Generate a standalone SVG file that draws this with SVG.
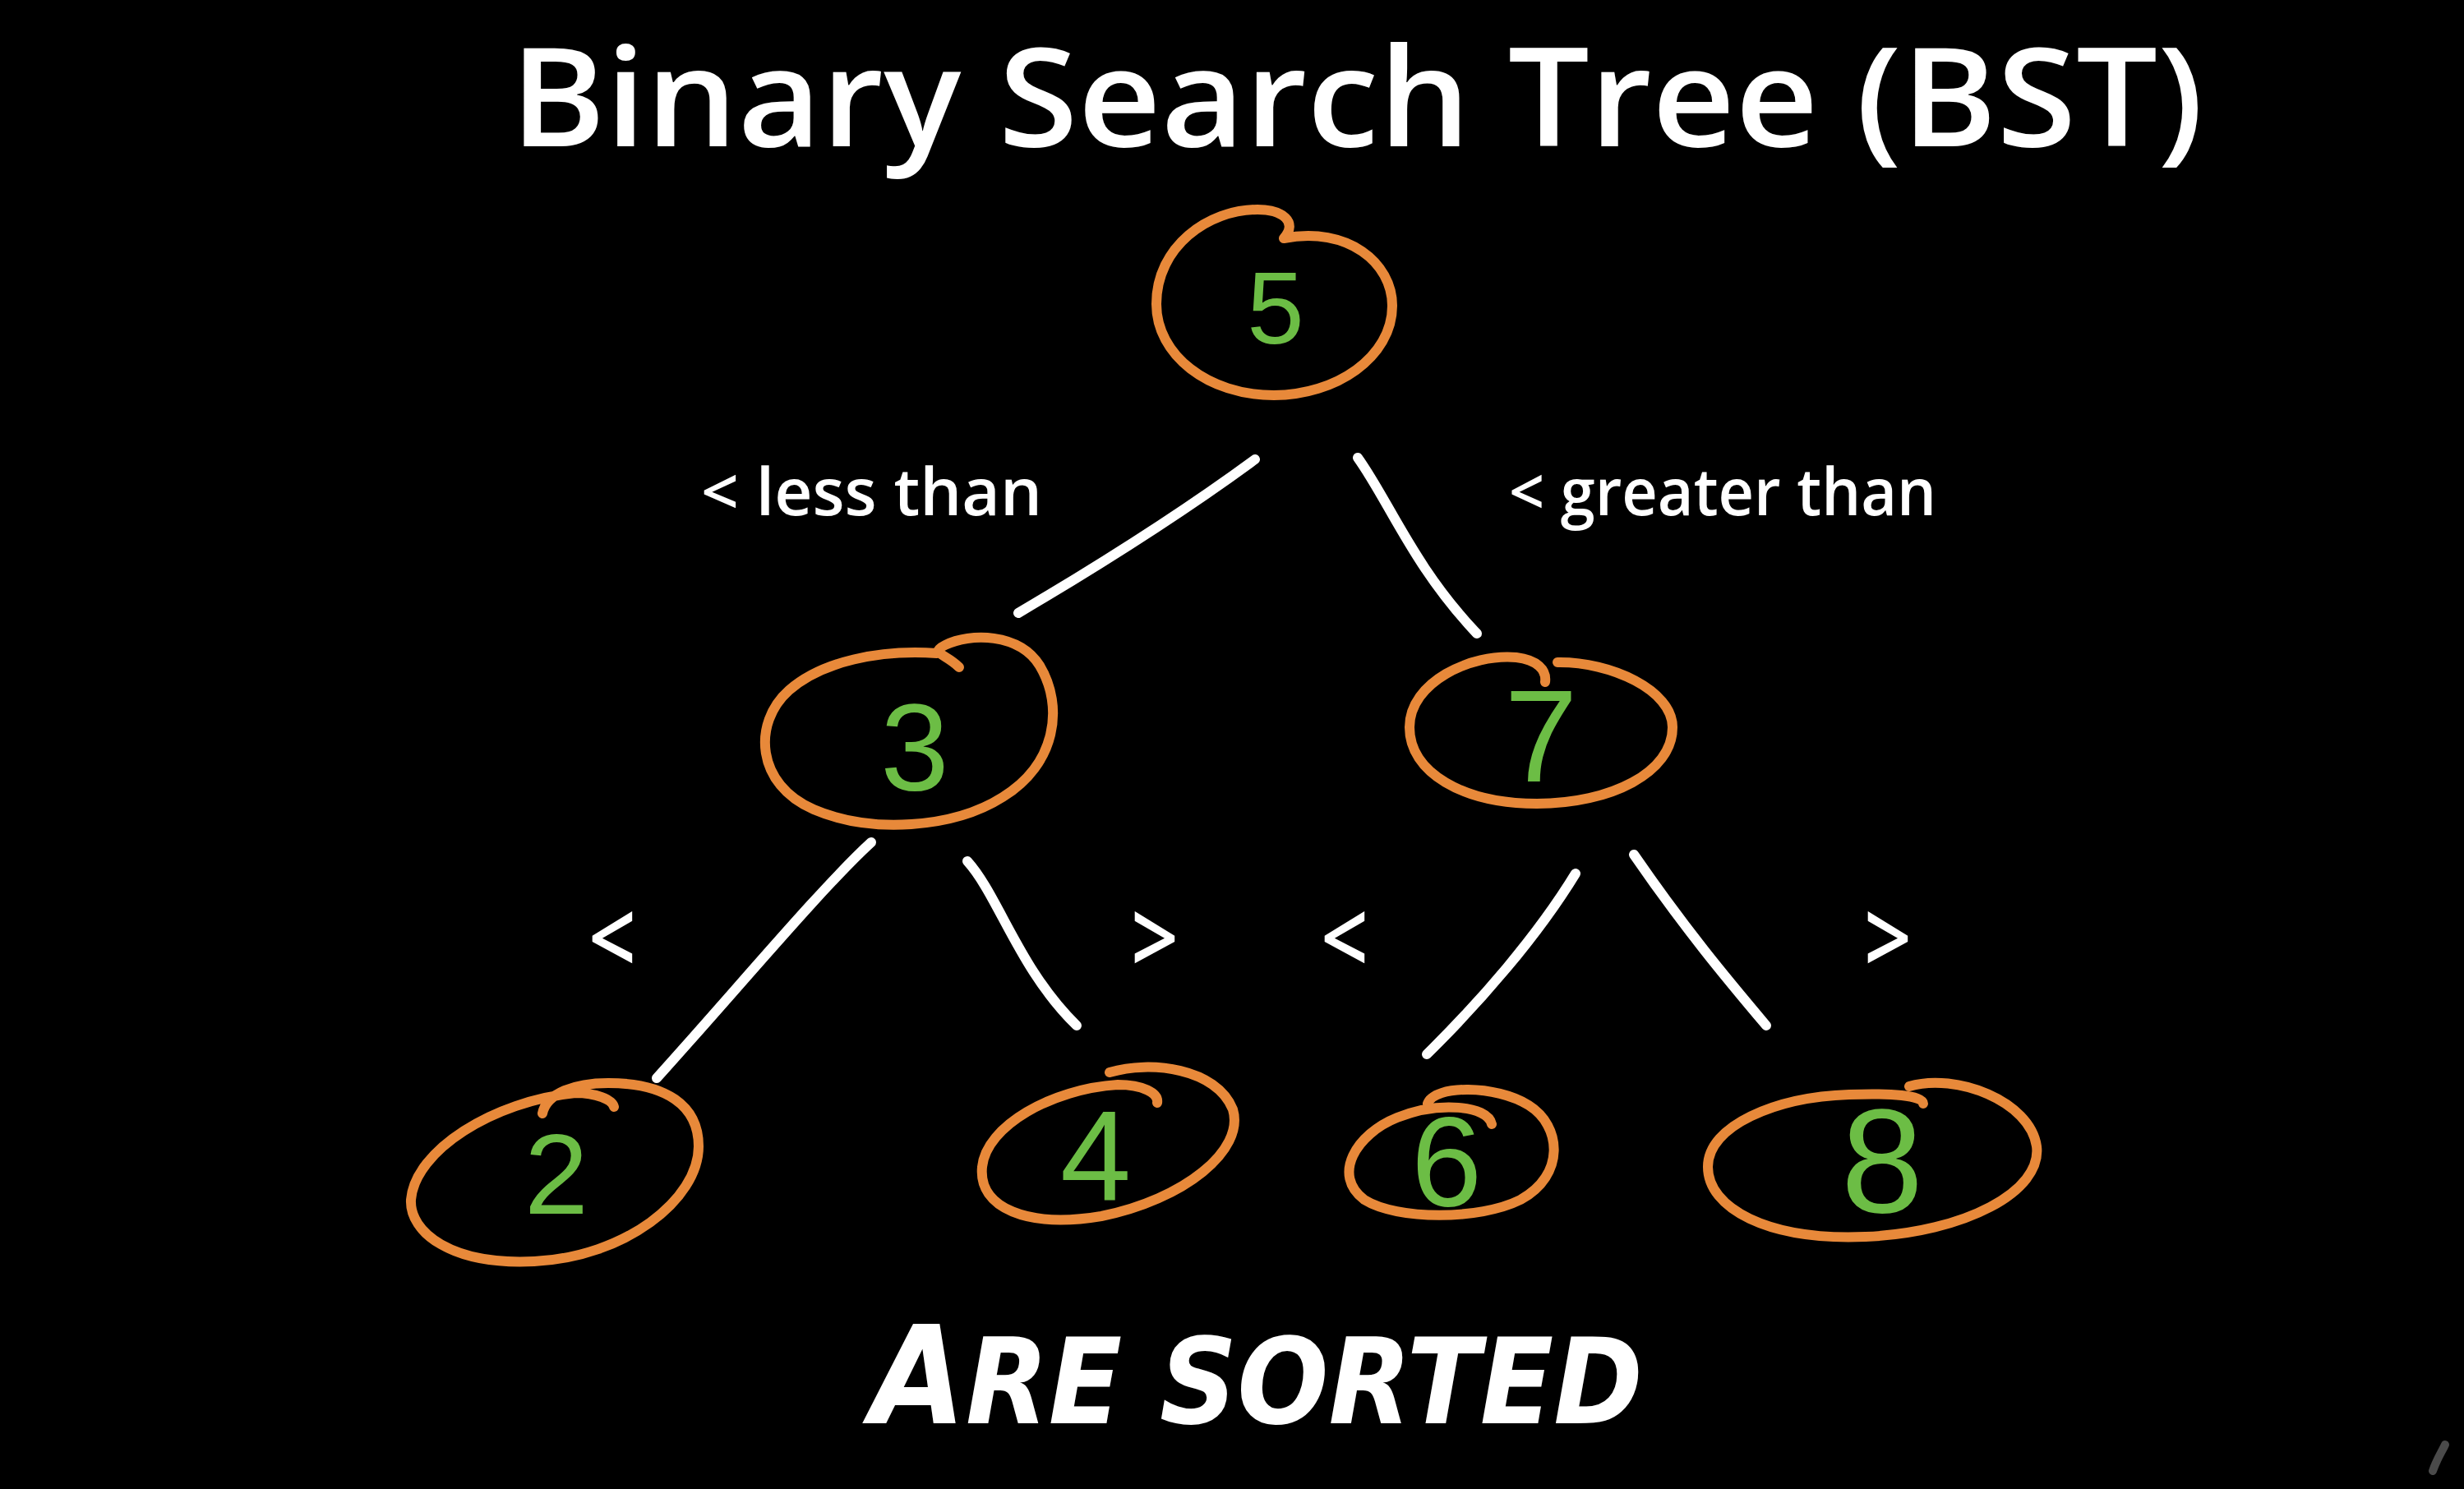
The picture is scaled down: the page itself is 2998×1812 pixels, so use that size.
<svg xmlns="http://www.w3.org/2000/svg" width="2998" height="1812" viewBox="0 0 2998 1812">
<style>
.bg{fill:#000}
.ring{fill:none;stroke:#E8893A;stroke-width:12;stroke-linecap:round;stroke-linejoin:round}
.digit{fill:#6CBD45;font-family:"Liberation Sans","Open Sans",sans-serif;text-anchor:middle}
.edge{fill:none;stroke:#fff;stroke-width:12;stroke-linecap:round}
.label{fill:#fff;font-family:"Open Sans","Lato",sans-serif;font-weight:600}
.chev{fill:#fff;font-family:"Open Sans","Lato",sans-serif;font-weight:600;font-size:125px}
.title{fill:#fff;font-family:"Open Sans","Lato",sans-serif;font-weight:600}
.sorted{fill:#fff;font-family:"DejaVu Sans","Liberation Sans",sans-serif;font-weight:bold;font-style:italic}
</style>
<rect class="bg" x="0" y="0" width="2998" height="1812"/>
<text class="title" x="621" y="178" font-size="166" textLength="2060" lengthAdjust="spacingAndGlyphs">Binary Search Tree (BST)</text>
<g id="connectors">
<path class="edge" d="M1527,559 Q1410,645 1239,746"/>
<path class="edge" d="M1652,557 C1690,610 1720,690 1797,771"/>
<path class="edge" d="M1060,1025 C1000,1080 900,1200 799,1312"/>
<path class="edge" d="M1177,1048 C1215,1090 1240,1180 1310,1248"/>
<path class="edge" d="M1917,1063 C1870,1140 1800,1220 1736,1283"/>
<path class="edge" d="M1988,1040 C2050,1130 2100,1190 2149,1248"/>
</g>
<g id="labels">
<text class="label" x="853" y="627" font-size="80" textLength="415" lengthAdjust="spacingAndGlyphs">&lt; less than</text>
<text class="label" x="1836" y="627" font-size="80" textLength="520" lengthAdjust="spacingAndGlyphs">&lt; greater than</text>
<text class="chev" x="716" y="1186" textLength="58" lengthAdjust="spacingAndGlyphs">&lt;</text>
<text class="chev" x="1376" y="1186" textLength="58" lengthAdjust="spacingAndGlyphs">&gt;</text>
<text class="chev" x="1607" y="1186" textLength="58" lengthAdjust="spacingAndGlyphs">&lt;</text>
<text class="chev" x="2268" y="1186" textLength="58" lengthAdjust="spacingAndGlyphs">&gt;</text>
</g>
<g id="node-5">
<path class="ring" d="M1562,290 C1640,275 1694,320 1694,372 C1694,435 1625,481 1550,481 C1470,481 1407,432 1407,370 C1407,300 1470,255 1530,255 C1560,255 1580,270 1562,290"/>
<text class="digit" x="1552" y="418" font-size="125">5</text>
</g>
<g id="node-3">
<path class="ring" d="M1167,812 C1150,795 1130,795 1150,785 C1180,770 1240,770 1265,810 C1295,860 1285,930 1220,970 C1160,1008 1060,1015 990,985 C920,955 915,880 960,840 C1000,805 1070,790 1140,795"/>
<text class="digit" x="1113" y="962" font-size="150">3</text>
</g>
<g id="node-7">
<path class="ring" d="M1895,806 C1960,805 2035,840 2035,885 C2035,940 1960,978 1870,978 C1780,978 1715,940 1715,885 C1715,830 1790,795 1845,800 C1870,803 1882,815 1880,830"/>
<text class="digit" x="1875" y="951" font-size="160">7</text>
</g>
<g id="node-2">
<path class="ring" d="M660,1355 C665,1330 700,1318 740,1318 C810,1318 850,1345 850,1395 C850,1460 760,1530 650,1535 C550,1540 498,1500 500,1460 C505,1400 600,1340 700,1330 C725,1330 745,1338 747,1347"/>
<text class="digit" x="677" y="1477" font-size="140">2</text>
</g>
<g id="node-4">
<path class="ring" d="M1350,1305 C1400,1290 1480,1300 1500,1350 C1515,1400 1440,1460 1340,1480 C1250,1495 1190,1470 1195,1420 C1200,1370 1280,1325 1360,1320 C1390,1320 1410,1330 1408,1342"/>
<text class="digit" x="1333" y="1460" font-size="155">4</text>
</g>
<g id="node-6">
<path class="ring" d="M1737,1343 C1745,1320 1820,1320 1860,1345 C1900,1370 1905,1430 1850,1460 C1800,1485 1700,1485 1660,1460 C1620,1430 1650,1380 1700,1360 C1750,1340 1810,1345 1815,1368"/>
<text class="digit" x="1760" y="1467" font-size="155">6</text>
</g>
<g id="node-8">
<path class="ring" d="M2323,1322 C2380,1305 2470,1340 2478,1395 C2485,1450 2390,1500 2270,1505 C2150,1510 2078,1470 2078,1420 C2078,1370 2160,1335 2250,1332 C2300,1330 2340,1333 2340,1343"/>
<text class="digit" x="2290" y="1475" font-size="180">8</text>
</g>
<text class="sorted" x="1059" y="1732" textLength="940" lengthAdjust="spacingAndGlyphs"><tspan font-size="166">A</tspan><tspan font-size="145">RE SORTED</tspan></text>
<path d="M2960,1790 C2965,1775 2972,1765 2975,1758" fill="none" stroke="#4a4a4a" stroke-width="10" stroke-linecap="round"/>
</svg>
